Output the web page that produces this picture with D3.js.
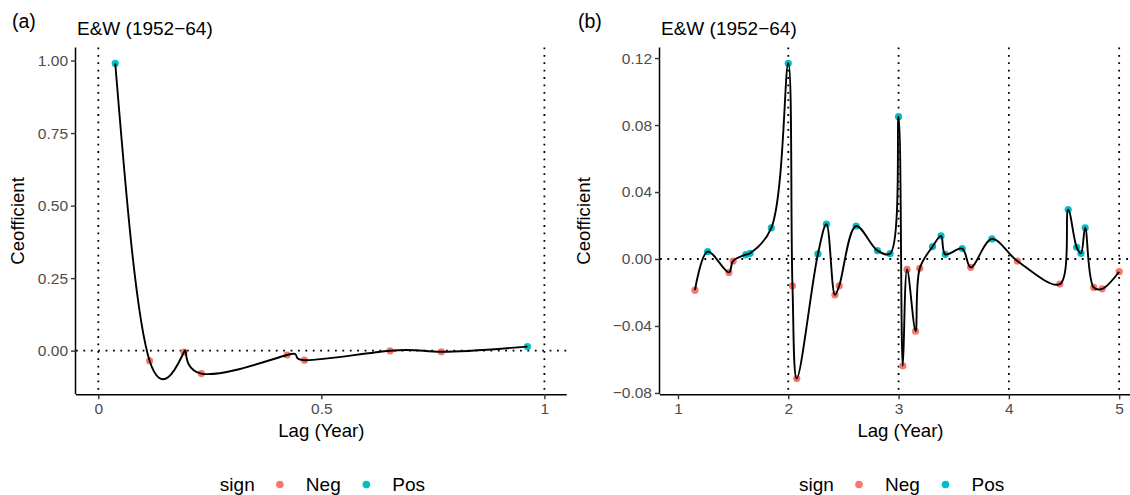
<!DOCTYPE html>
<html>
<head>
<meta charset="utf-8">
<script src="https://cdn.jsdelivr.net/npm/d3@7"></script>
<style>
	body { margin: 0; background: #fff; }
	svg { display: block; font-family: "Liberation Sans", Arial, sans-serif; }
	.tick text { fill: #4d4d4d; font-size: 15.5px; }
	.tick line { stroke: #333; stroke-width: 1.4; }
	.domain { stroke: #000; stroke-width: 1.5; }
</style>
</head>
<body>
<svg id="chart" width="1130" height="495"></svg>
<script>
/* global d3 */

// panel (a): short lags
const lagA = [0.038, 0.115, 0.192, 0.231, 0.423, 0.462, 0.654, 0.769, 0.962];
const coefA = [0.990, -0.035, -0.005, -0.079, -0.015, -0.033, -0.0005, -0.004, 0.014];

// panel (b): long lags
const lagB = [1.154, 1.269, 1.462, 1.500, 1.615, 1.654, 1.846, 2.000, 2.038, 2.077,
	2.269, 2.346, 2.423, 2.462, 2.615, 2.808, 2.923, 3.000, 3.038, 3.077,
	3.154, 3.192, 3.308, 3.385, 3.423, 3.577, 3.654, 3.846, 4.077, 4.462,
	4.538, 4.615, 4.654, 4.692, 4.769, 4.846, 5.000];
const coefB = [-0.0186, 0.0044, -0.0080, -0.0012, 0.0026, 0.0034, 0.0186, 0.1169, -0.0160, -0.0714,
	0.0030, 0.0208, -0.0214, -0.0160, 0.0197, 0.0050, 0.0032, 0.0850, -0.0638, -0.0062,
	-0.0431, -0.0056, 0.0074, 0.0138, 0.0028, 0.0062, -0.0050, 0.0120, -0.0012, -0.0150,
	0.0295, 0.0070, 0.0034, 0.0186, -0.0170, -0.0178, -0.0076];

const ticksXA = [0, 0.5, 1];
const ticksYA = [0, 0.25, 0.5, 0.75, 1];
const ticksXB = [1, 2, 3, 4, 5];
const ticksYB = [-0.08, -0.04, 0, 0.04, 0.08, 0.12];
const vlinesA = [0, 1];
const vlinesB = [2, 3, 4, 5];

const signNames = ['Neg', 'Pos'];
const signColors = ['#F8766D', '#00BFC4'];

const svg = d3.select('#chart');

function drawPanel(opts) {
	const x = d3.scaleLinear().domain(opts.xDomain).range([opts.left, opts.right]);
	const y = d3.scaleLinear().domain(opts.yDomain).range([opts.bottom, opts.top]);
	const data = opts.lags.map((l, i) => ({lag: l, coef: opts.coefs[i]}));

	const g = svg.append('g');

	// panel letter and title
	g.append('text')
		.attr('x', opts.letterX)
		.attr('y', 28)
		.style('font-size', '19.5px')
		.text(opts.letter);

	g.append('text')
		.attr('x', opts.left + 1)
		.attr('y', 35)
		.style('font-size', '19px')
		.text('E&W (1952\u221264)');

	// reference lines
	g.append('line')
		.attr('x1', opts.left).attr('x2', opts.right)
		.attr('y1', y(0)).attr('y2', y(0))
		.attr('stroke', '#000')
		.attr('stroke-width', 1.8)
		.attr('stroke-dasharray', '1.8 5.6');

	g.selectAll('line.vline')
		.data(opts.vlines)
		.enter().append('line')
		.attr('class', 'vline')
		.attr('x1', d => x(d)).attr('x2', d => x(d))
		.attr('y1', opts.top).attr('y2', opts.bottom)
		.attr('stroke', '#000')
		.attr('stroke-width', 1.8)
		.attr('stroke-dasharray', '1.8 5.6');

	g.selectAll('circle')
		.data(data)
		.enter().append('circle')
		.attr('cx', d => x(d.lag))
		.attr('cy', d => y(d.coef))
		.attr('r', 3.6)
		.attr('fill', d => (d.coef >= 0 ? signColors[1] : signColors[0]));

	const line = d3.line()
		.x(d => x(d.lag))
		.y(d => y(d.coef))
		.curve(opts.curve);

	g.append('path')
		.datum(data)
		.attr('d', line)
		.attr('fill', 'none')
		.attr('stroke', '#000')
		.attr('stroke-width', 1.9);

	// axes
	g.append('g')
		.attr('transform', `translate(0,${opts.bottom})`)
		.call(d3.axisBottom(x).tickValues(opts.ticksX).tickSize(5).tickSizeOuter(0).tickPadding(4).tickFormat(d3.format('')))
		.call(ax => ax.select('.domain').attr('d', `M${opts.left},0.5H${opts.right}`));

	g.append('g')
		.attr('transform', `translate(${opts.left},0)`)
		.call(d3.axisLeft(y).tickValues(opts.ticksY).tickSize(5).tickSizeOuter(0).tickPadding(3).tickFormat(d3.format('.2f')))
		.call(ax => ax.select('.domain').attr('d', `M-0.5,${opts.top}V${opts.bottom}`));

	g.selectAll('.tick text').style('font-family', '"Liberation Sans", Arial, sans-serif');

	// axis titles
	const cx = (opts.left + opts.right) / 2;
	g.append('text')
		.attr('x', cx)
		.attr('y', 437)
		.attr('text-anchor', 'middle')
		.style('font-size', '18.6px')
		.text('Lag (Year)');

	g.append('text')
		.attr('transform', `translate(${opts.letterX + 12},${(opts.top + opts.bottom) / 2}) rotate(-90)`)
		.attr('text-anchor', 'middle')
		.style('font-size', '18.6px')
		.text('Ceofficient');

	// legend
	const leg = g.append('g').attr('transform', `translate(${cx - 101.5},491)`);
	leg.append('text').attr('x', 0).style('font-size', '19px').text('sign');
	const items = leg.selectAll('g.item')
		.data(signNames)
		.enter().append('g')
		.attr('class', 'item')
		.attr('transform', (d, i) => `translate(${60 + i * 86.5},0)`);
	items.append('circle')
		.attr('cx', 0)
		.attr('cy', -6.5)
		.attr('r', 3.8)
		.attr('fill', (d, i) => signColors[i]);
	items.append('text')
		.attr('x', 26)
		.style('font-size', '19px')
		.text(d => d);
}

drawPanel({
	letter: '(a)', letterX: 12,
	left: 76, right: 566.7, top: 47.5, bottom: 394.3,
	xDomain: [-0.05, 1.05], yDomain: [-0.1505, 1.045],
	lags: lagA, coefs: coefA, curve: d3.curveNatural,
	ticksX: ticksXA, ticksY: ticksYA, vlines: vlinesA,
});

drawPanel({
	letter: '(b)', letterX: 578,
	left: 660, right: 1141, top: 47.5, bottom: 394.3,
	xDomain: [0.837, 5.198], yDomain: [-0.0808, 0.1263],
	lags: lagB, coefs: coefB, curve: d3.curveCatmullRom.alpha(0.5),
	ticksX: ticksXB, ticksY: ticksYB, vlines: vlinesB,
});
</script>
</body>
</html>
